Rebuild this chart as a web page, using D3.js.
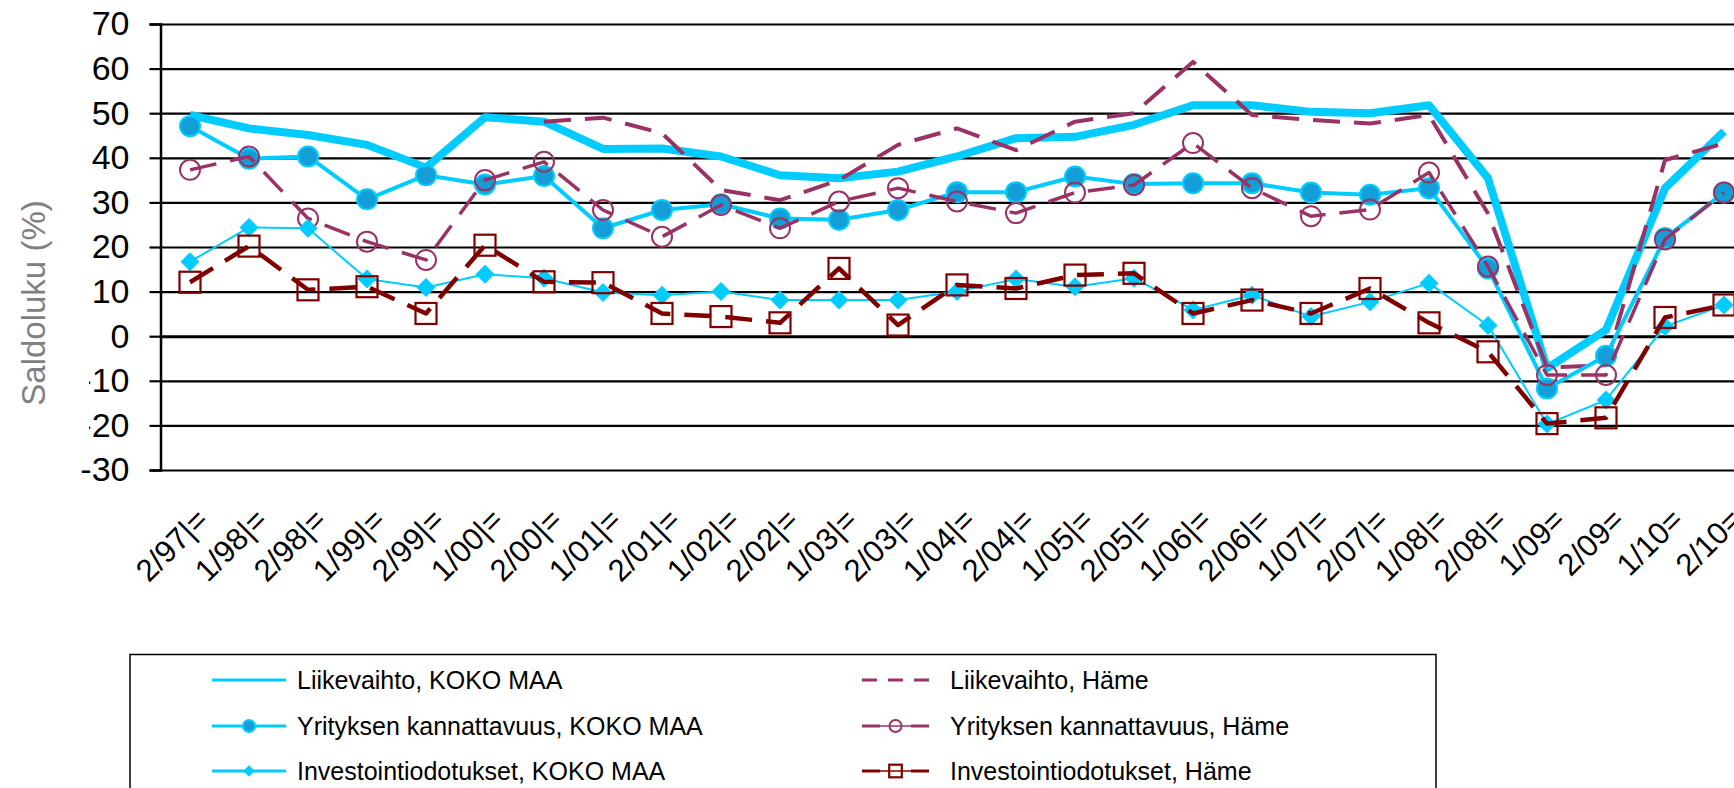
<!DOCTYPE html>
<html>
<head>
<meta charset="utf-8">
<script src="https://cdn.jsdelivr.net/npm/d3@7"></script>
<style>
  body { margin: 0; background: #fff; }
  svg { display: block; font-family: "Liberation Sans", Arial, sans-serif; }
</style>
</head>
<body>
<div id="chart"></div>
<script>
// half-year periods on the x axis
var categories = ["2/97|=", "1/98|=", "2/98|=", "1/99|=", "2/99|=", "1/00|=", "2/00|=", "1/01|=", "2/01|=",
  "1/02|=", "2/02|=", "1/03|=", "2/03|=", "1/04|=", "2/04|=", "1/05|=", "2/05|=", "1/06|=", "2/06|=",
  "1/07|=", "2/07|=", "1/08|=", "2/08|=", "1/09=", "2/09=", "1/10=", "2/10="];

var yTicks = [-30, -20, -10, 0, 10, 20, 30, 40, 50, 60, 70];

// saldoluvut (%)
var liikevaihtoKoko = [49.6, 46.6, 45.1, 42.9, 37.8, 49.1, 48.1, 42.0, 42.1, 40.3, 36.1, 35.4, 36.9, 40.3,
  44.4, 44.7, 47.4, 51.8, 51.8, 50.3, 50.0, 51.8, 35.4, -7.2, 1.4, 33.2, 45.9];
var liikevaihtoHame = [null, null, null, null, null, null, 48.1, 49.0, 45.5, 32.8, 30.5, 35.0, 42.9, 46.6,
  41.7, 48.1, 50.0, 61.5, 49.6, 48.5, 47.7, 49.6, 27.5, -7.0, -6.5, 39.5, 43.2];
var yritysKoko = [47.1, 39.8, 40.3, 30.7, 36.1, 34.0, 35.9, 24.2, 28.3, 29.6, 26.4, 26.1, 28.3, 32.3,
  32.3, 35.8, 34.1, 34.3, 34.3, 32.2, 31.7, 33.2, 15.2, -11.7, -4.4, 22.0, 32.2];
var yritysHame = [37.3, 40.3, 26.4, 21.2, 17.1, 35.0, 39.1, 28.3, 22.3, 29.4, 24.2, 30.2, 33.2, 30.2,
  27.6, 32.2, 33.9, 43.3, 33.2, 26.9, 28.4, 36.7, 15.6, -8.7, -8.7, 21.7, 32.2];
var investKoko = [16.7, 24.4, 24.2, 12.8, 10.9, 13.9, 13.0, 9.8, 9.2, 10.0, 8.1, 8.1, 8.1, 10.0,
  12.8, 11.1, 13.0, 5.9, 9.2, 4.4, 7.7, 11.9, 2.4, -19.7, -14.3, 2.2, 7.0];
var investHame = [12.1, 20.2, 10.4, 11.1, 5.1, 20.4, 12.2, 12.0, 5.1, 4.4, 3.0, 15.2, 2.5, 11.5,
  10.7, 13.7, 14.1, 5.1, 8.1, 5.1, 10.7, 3.0, -3.5, -19.6, -18.3, 4.2, 7.0];

var width = 1734, height = 788;
var cyan = "#00CCFF", plum = "#993366", maroon = "#800000", dotBlue = "#139ED8";

var series = [
  {name: "Liikevaihto, KOKO MAA", values: liikevaihtoKoko, color: cyan, w: 8, dash: null, marker: null},
  {name: "Liikevaihto, Häme", values: liikevaihtoHame, color: plum, w: 4, dash: "27,14", marker: null},
  {name: "Yrityksen kannattavuus, KOKO MAA", values: yritysKoko, color: cyan, w: 4, dash: null, marker: "dot"},
  {name: "Yrityksen kannattavuus, Häme", values: yritysHame, color: plum, w: 3.5, dash: "27,14", marker: "ring"},
  {name: "Investointiodotukset, KOKO MAA", values: investKoko, color: cyan, w: 2, dash: null, marker: "diamond"},
  {name: "Investointiodotukset, Häme", values: investHame, color: maroon, w: 4.5, dash: "27,14", marker: "square"}
];

var svg = d3.select("#chart").append("svg")
  .attr("width", width)
  .attr("height", height);

var x = d3.scaleBand().domain(categories).range([160.5, 160.5 + 27 * 59]);
var y = d3.scaleLinear().domain([-30, 70]).range([470, 24]);
function cx(i) { return x(categories[i]) + x.bandwidth() / 2; }

// gridlines
var grid = svg.append("g")
  .attr("transform", "translate(160.5,0)")
  .call(d3.axisRight(y).tickValues(yTicks).tickSize(1600).tickFormat(""));
grid.select(".domain").remove();
grid.selectAll(".tick line")
  .attr("stroke", "#000")
  .attr("stroke-width", function(d) { return d === 0 ? 3 : 2.2; });

// y axis with ticks and labels (plain hyphen for negatives)
var yAxis = svg.append("g")
  .attr("transform", "translate(160.5,0)")
  .call(d3.axisLeft(y).tickValues(yTicks).tickSize(11).tickPadding(20)
    .tickFormat(function(d) { return String(d); }));
yAxis.select(".domain").attr("stroke", "#000").attr("stroke-width", 2.5);
yAxis.selectAll(".tick line").attr("stroke", "#000").attr("stroke-width", 2.2);
yAxis.selectAll(".tick text")
  .attr("font-size", 34)
  .attr("font-family", "Liberation Sans, Arial, sans-serif")
  .attr("fill", "#000");

// y title, its white box hides part of the minus signs like in the original
svg.append("rect")
  .attr("x", 0).attr("y", 165)
  .attr("width", 89).attr("height", 282)
  .attr("fill", "#fff");
svg.append("text")
  .attr("transform", "translate(33,303) rotate(-90)")
  .attr("text-anchor", "middle")
  .attr("dominant-baseline", "central")
  .attr("font-size", 33)
  .attr("fill", "#808080")
  .text("Saldoluku (%)");

// x labels
svg.append("g").selectAll("text")
  .data(categories)
  .enter()
  .append("text")
  .attr("transform", function(d, i) { return "translate(" + (cx(i) + 20) + ",522) rotate(-45)"; })
  .attr("text-anchor", "end")
  .attr("font-size", 31)
  .attr("fill", "#000")
  .text(function(d) { return d; });

function drawMarker(g, type, color, px, py, scale) {
  var s = scale || 1;
  if (type === "dot") {
    g.append("circle").attr("cx", px).attr("cy", py).attr("r", 10 * s)
      .attr("fill", dotBlue).attr("stroke", cyan).attr("stroke-width", 2);
  } else if (type === "ring") {
    g.append("circle").attr("cx", px).attr("cy", py).attr("r", 10 * s)
      .attr("fill", "none").attr("stroke", color).attr("stroke-width", 2);
  } else if (type === "diamond") {
    var h = 9.5 * s;
    g.append("path")
      .attr("d", "M" + px + "," + (py - h) + "L" + (px + h) + "," + py + "L" + px + "," + (py + h) + "L" + (px - h) + "," + py + "Z")
      .attr("fill", cyan);
  } else if (type === "square") {
    var a = 10.5 * s;
    g.append("rect").attr("x", px - a).attr("y", py - a).attr("width", 2 * a).attr("height", 2 * a)
      .attr("fill", "none").attr("stroke", color).attr("stroke-width", 2.2);
  }
}

var line = d3.line()
  .defined(function(d) { return d != null; })
  .x(function(d, i) { return cx(i); })
  .y(function(d) { return y(d); });

series.forEach(function(s) {
  var g = svg.append("g");
  g.append("path")
    .attr("d", line(s.values))
    .attr("fill", "none")
    .attr("stroke", s.color)
    .attr("stroke-width", s.w)
    .attr("stroke-linejoin", "round")
    .attr("stroke-dasharray", s.dash);
  if (s.marker) {
    s.values.forEach(function(v, i) {
      if (v != null) drawMarker(g, s.marker, s.color, cx(i), y(v));
    });
  }
});

// legend
var legend = svg.append("g");
legend.append("rect")
  .attr("x", 130).attr("y", 654.5)
  .attr("width", 1306).attr("height", 200)
  .attr("fill", "none").attr("stroke", "#000").attr("stroke-width", 1.5);

var legendRows = [680, 726, 771];
var leftSeries = [series[0], series[2], series[4]];
var rightSeries = [series[1], series[3], series[5]];

leftSeries.forEach(function(s, r) {
  var ly = legendRows[r];
  legend.append("line").attr("x1", 212).attr("x2", 286).attr("y1", ly).attr("y2", ly)
    .attr("stroke", s.color).attr("stroke-width", 3);
  if (s.marker) drawMarker(legend, s.marker, s.color, 249, ly, 0.6);
  legend.append("text").attr("x", 297).attr("y", ly).attr("dominant-baseline", "central")
    .attr("font-size", 25).text(s.name);
});

rightSeries.forEach(function(s, r) {
  var ly = legendRows[r];
  if (s.marker) {
    legend.append("line").attr("x1", 862).attr("x2", 880).attr("y1", ly).attr("y2", ly)
      .attr("stroke", s.color).attr("stroke-width", 3);
    legend.append("line").attr("x1", 911).attr("x2", 929).attr("y1", ly).attr("y2", ly)
      .attr("stroke", s.color).attr("stroke-width", 3);
    legend.append("line").attr("x1", 880).attr("x2", 911).attr("y1", ly).attr("y2", ly)
      .attr("stroke", s.color).attr("stroke-width", 1.5);
    drawMarker(legend, s.marker, s.color, 895.5, ly, 0.6);
  } else {
    legend.append("line").attr("x1", 862).attr("x2", 929).attr("y1", ly).attr("y2", ly)
      .attr("stroke", s.color).attr("stroke-width", 3).attr("stroke-dasharray", "15,11");
  }
  legend.append("text").attr("x", 950).attr("y", ly).attr("dominant-baseline", "central")
    .attr("font-size", 25).text(s.name);
});
</script>
</body>
</html>
